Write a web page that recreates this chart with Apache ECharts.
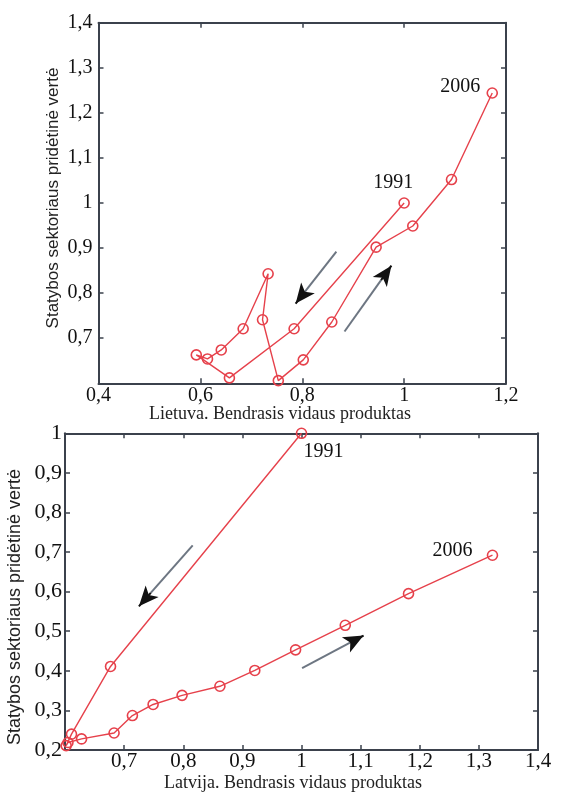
<!DOCTYPE html>
<html>
<head>
<meta charset="utf-8">
<script src="https://cdn.jsdelivr.net/npm/echarts@6/dist/echarts.min.js"></script>
<style>
  html, body { margin: 0; padding: 0; background: #fff; }
  #chart { width: 561px; height: 794px; }
</style>
</head>
<body>
<div id="chart"></div>
<script>
// Years of the trajectory, first to last
const years = ['1991', '1992', '1993', '1994', '1995', '1996', '1997', '1998',
               '1999', '2000', '2001', '2002', '2003', '2004', '2005', '2006'];

// Lithuania: GDP index (x) and construction value added index (y)
const ltGdp    = [1.000, 0.784, 0.657, 0.592, 0.614, 0.641, 0.684, 0.733,
                  0.722, 0.753, 0.802, 0.858, 0.945, 1.017, 1.093, 1.173];
const ltConstr = [1.000, 0.721, 0.612, 0.663, 0.654, 0.674, 0.721, 0.843,
                  0.741, 0.606, 0.652, 0.736, 0.902, 0.949, 1.052, 1.244];

// Latvia: GDP index (x) and construction value added index (y)
const lvGdp    = [1.000, 0.677, 0.611, 0.602, 0.605, 0.628, 0.683, 0.714,
                  0.749, 0.798, 0.862, 0.921, 0.990, 1.074, 1.181, 1.323];
const lvConstr = [1.000, 0.411, 0.240, 0.211, 0.219, 0.228, 0.243, 0.287,
                  0.315, 0.338, 0.361, 0.401, 0.453, 0.515, 0.595, 0.692];

// Direction arrows (start -> end, in data units)
const ltArrows = [[[0.867, 0.892], [0.787, 0.777]], [[0.883, 0.715], [0.975, 0.861]]];
const lvArrows = [[[0.816, 0.717], [0.725, 0.563]], [[1.001, 0.407], [1.105, 0.489]]];

// Axis ranges and tick steps
const ltX = { min: 0.4, max: 1.2, step: 0.2, hide: [] };
const ltY = { min: 0.6, max: 1.4, step: 0.1, hide: [0.6] };
const lvX = { min: 0.6, max: 1.4, step: 0.1, hide: [0.6] };
const lvY = { min: 0.2, max: 1.0, step: 0.1, hide: [] };

const RED = '#e6414b';
const FRAME = '#3b414c';
const SERIF = 'Liberation Serif';

function fmt(hide) {
  return function (v) {
    for (const h of hide) if (Math.abs(v - h) < 1e-9) return '';
    return String(Math.round(v * 10) / 10).replace('.', ',');
  };
}

function axis(gridIndex, spec, position, showLabels, fontSize, margin) {
  return {
    type: 'value', gridIndex, position,
    min: spec.min, max: spec.max, interval: spec.step,
    axisLine: { show: true, onZero: false, lineStyle: { color: FRAME, width: 2 } },
    axisTick: { show: true, inside: true, length: 5, lineStyle: { color: FRAME, width: 1.5 } },
    axisLabel: {
      show: showLabels, formatter: fmt(spec.hide), margin,
      color: '#111', fontFamily: SERIF, fontSize, hideOverlap: false
    },
    splitLine: { show: false }
  };
}

// Year tags at the ends of each path
const tagOffsets = {
  lt: { '1991': [-11, -20], '2006': [-32, -6] },
  lv: { '1991': [22, 18], '2006': [-40, -4] }
};

function points(xs, ys, tags) {
  return xs.map((x, i) => {
    const item = { value: [x, ys[i]], name: years[i] };
    const off = tags[years[i]];
    if (off) {
      item.label = {
        show: true, position: 'inside', offset: off,
        formatter: '{b}', color: '#111', fontFamily: SERIF, fontSize: 20
      };
    }
    return item;
  });
}

function arrows(list) {
  const out = [];
  list.forEach(([a, b]) => {
    const t = 0.78;
    const m = [a[0] + (b[0] - a[0]) * t, a[1] + (b[1] - a[1]) * t];
    const shaft = { color: '#6d7682', width: 2, type: 'solid' };
    const head = { color: '#111', width: 2, type: 'solid' };
    out.push([
      { coord: a, symbol: 'none', lineStyle: shaft },
      { coord: m, symbol: 'none', lineStyle: shaft }
    ]);
    out.push([
      { coord: m, symbol: 'none', lineStyle: head },
      { coord: b, symbol: 'arrow', symbolSize: [13, 20], lineStyle: head }
    ]);
  });
  return out;
}

function pathSeries(xi, yi, xs, ys, tags, arrowList) {
  return {
    type: 'line', xAxisIndex: xi, yAxisIndex: yi,
    data: points(xs, ys, tags),
    clip: false,
    symbol: 'circle', symbolSize: 10,
    lineStyle: { color: RED, width: 1.4 },
    itemStyle: { color: 'rgba(0,0,0,0)', borderColor: RED, borderWidth: 1.6 },
    label: { show: false },
    emphasis: { disabled: true },
    markLine: {
      silent: true, animation: false,
      label: { show: false },
      emphasis: { disabled: true },
      data: arrows(arrowList)
    },
    z: 3
  };
}

const chart = echarts.init(document.getElementById('chart'), null, { renderer: 'canvas' });

chart.setOption({
  backgroundColor: '#ffffff',
  animation: false,
  textStyle: { fontFamily: SERIF },
  grid: [
    { left: 98.5, top: 22.7, width: 407.5, height: 360.6 },
    { left: 65, top: 433.3, width: 473, height: 316.7 }
  ],
  xAxis: [
    axis(0, ltX, 'bottom', true, 20, 2),
    axis(0, ltX, 'top', false, 20, 2),
    axis(1, lvX, 'bottom', true, 21, 1),
    axis(1, lvX, 'top', false, 21, 1)
  ],
  yAxis: [
    axis(0, ltY, 'left', true, 20, 6),
    axis(0, ltY, 'right', false, 20, 6),
    axis(1, lvY, 'left', true, 22, 3),
    axis(1, lvY, 'right', false, 22, 3)
  ],
  series: [
    pathSeries(0, 0, ltGdp, ltConstr, tagOffsets.lt, ltArrows),
    pathSeries(2, 2, lvGdp, lvConstr, tagOffsets.lv, lvArrows)
  ],
  graphic: [
    {
      type: 'text', x: 53, y: 198, rotation: Math.PI / 2,
      style: { text: 'Statybos sektoriaus pridėtinė vertė', font: '17px "Liberation Sans"',
               fill: '#222', align: 'center', verticalAlign: 'middle' }
    },
    {
      type: 'text', x: 15, y: 607, rotation: Math.PI / 2,
      style: { text: 'Statybos sektoriaus pridėtinė vertė', font: '18px "Liberation Sans"',
               fill: '#222', align: 'center', verticalAlign: 'middle' }
    },
    {
      type: 'text', x: 280, y: 414,
      style: { text: 'Lietuva. Bendrasis vidaus produktas', font: '18px "Liberation Serif"',
               fill: '#222', align: 'center', verticalAlign: 'middle' }
    },
    {
      type: 'text', x: 293, y: 783,
      style: { text: 'Latvija. Bendrasis vidaus produktas', font: '18px "Liberation Serif"',
               fill: '#222', align: 'center', verticalAlign: 'middle' }
    }
  ]
});
</script>
</body>
</html>
